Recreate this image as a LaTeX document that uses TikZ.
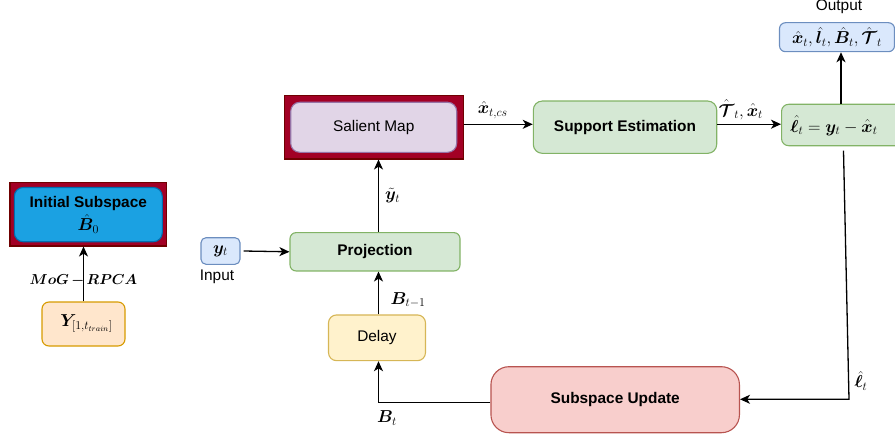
\documentclass[tikz,border=0pt]{standalone}
\usepackage{amsmath}
\usepackage{bm}
\usepackage{fontspec}
\setmainfont{Liberation Sans}
\usetikzlibrary{arrows.meta,calc}

\definecolor{grnF}{HTML}{D5E8D4}\definecolor{grnD}{HTML}{82B366}
\definecolor{bluF}{HTML}{DAE8FC}\definecolor{bluD}{HTML}{6C8EBF}
\definecolor{purF}{HTML}{E1D5E7}\definecolor{purD}{HTML}{9673A6}
\definecolor{yelF}{HTML}{FFF2CC}\definecolor{yelD}{HTML}{D6B656}
\definecolor{orgF}{HTML}{FFE6CC}\definecolor{orgD}{HTML}{D79B00}
\definecolor{redF}{HTML}{F8CECC}\definecolor{redD}{HTML}{B85450}
\definecolor{crimF}{HTML}{A20025}\definecolor{crimD}{HTML}{6F0000}
\definecolor{cyanF}{HTML}{1BA1E2}\definecolor{cyanD}{HTML}{006EAF}

\tikzset{
  blk/.style={draw, line width=1.1pt, inner sep=0pt, align=center,
    font=\fontsize{15.4}{19}\selectfont},
  frame/.style={draw=crimD, fill=crimF, line width=1.1pt, inner sep=0pt},
  mlbl/.style={inner sep=0pt, font=\fontsize{17}{20}\selectfont},
  plain/.style={inner sep=0pt, font=\fontsize{15.4}{19}\selectfont},
  arr/.style={line width=1.3pt, -{Stealth[length=10pt,width=9pt,inset=2.8pt]}}
}

\begin{document}
\begin{tikzpicture}[x=1pt,y=-1pt]
\useasboundingbox (0,0) rectangle (895,436);
\clip (0,0) rectangle (895,436);

% ---- initial subspace estimation (left) ----
\node[frame, minimum width=156.7pt, minimum height=63.3pt] (initF) at (88.3,214.3) {};
\node[blk, fill=cyanF, draw=cyanD, rounded corners=9pt,
      minimum width=148pt, minimum height=54.3pt] (init) at (88.3,214.6)
      {\textbf{Initial Subspace}\\[3pt]{\fontsize{17}{20}\selectfont$\hat{\bm{B}}_0$}};
\node[blk, fill=orgF, draw=orgD, rounded corners=7pt,
      minimum width=83pt, minimum height=44pt] (ytrain) at (83.5,324)
      {\hspace{6pt}{\fontsize{17}{20}\selectfont$\bm{Y}_{[1,t_{train}]}$}};
\draw[arr] (ytrain.north) -- (ytrain.north |- initF.south)
  node[mlbl, pos=0.38, font=\fontsize{15.5}{18}\selectfont] (mog)
  {$\bm{MoG\,{-}\,RPCA}$};

% ---- main chain ----
\node[blk, fill=bluF, draw=bluD, rounded corners=5pt,
      minimum width=39pt, minimum height=26.6pt] (yin) at (220.5,251)
      {\fontsize{18.5}{20}\selectfont$\bm{y}_t$};
\node[plain] (inlbl) at (217,277) {Input};

\node[blk, fill=grnF, draw=grnD, rounded corners=6pt,
      minimum width=170pt, minimum height=38.3pt] (proj) at (375,251.8)
      {\textbf{Projection}};

\node[frame, minimum width=179pt, minimum height=63.3pt] (salF) at (373.8,127.3) {};
\node[blk, fill=purF, draw=purD, rounded corners=9pt,
      minimum width=166pt, minimum height=50pt] (sal) at (373.7,127.3)
      {Salient Map};

\node[blk, fill=grnF, draw=grnD, rounded corners=9pt,
      minimum width=183.4pt, minimum height=52.3pt] (supp) at (625,127.2)
      {\textbf{Support Estimation}};

\node[blk, fill=grnF, draw=grnD, rounded corners=7pt, anchor=west,
      minimum width=130pt, minimum height=41.4pt] (lres) at (781,125) {};
\node[mlbl, font=\fontsize{18}{20}\selectfont] (lrestxt) at (834,125.5)
  {$\hat{\bm{\ell}}_t=\bm{y}_t-\hat{\bm{x}}_t$};

\node[blk, fill=bluF, draw=bluD, rounded corners=6pt,
      minimum width=115pt, minimum height=29pt] (out) at (837,37.2)
      {\fontsize{17}{20}\selectfont$\hat{\bm{x}}_t,\hat{\bm{l}}_t,\hat{\bm{B}}_t,\hat{\bm{\mathcal{T}}}_t$};
\node[plain] (outlbl) at (839,7) {Output};

\node[blk, fill=yelF, draw=yelD, rounded corners=8pt,
      minimum width=97pt, minimum height=45.7pt] (delay) at (377,337.8)
      {Delay};

\node[blk, fill=redF, draw=redD, rounded corners=18pt,
      minimum width=248.5pt, minimum height=66pt] (subup) at (615.2,399.7)
      {\textbf{Subspace Update}};

% ---- connectors ----
\coordinate (vx) at (378.5,0);
\coordinate (ox) at (841,0);
\coordinate (fbtop) at (843.5,150.7);
\coordinate (fbcorner) at (849,399.3);

\draw[arr] ([xshift=3pt]yin.east) -- (proj.west);
\draw[arr] (proj.north -| vx) -- (salF.south -| vx)
  node[mlbl, pos=0.5, right=6pt] (ytil) {$\tilde{\bm{y}}_t$};
\draw[arr] ([yshift=3pt]salF.east) -- ([yshift=3pt]salF.east -| supp.west)
  node[mlbl, pos=0.42, above=5pt] (xcs) {$\hat{\bm{x}}_{t,cs}$};
\draw[arr] ([yshift=3pt]supp.east) -- ([yshift=3pt]supp.east -| lres.west)
  node[mlbl, pos=0.37, above=4pt] (tx) {$\hat{\bm{\mathcal{T}}}_t,\hat{\bm{x}}_t$};
\draw[arr] (lres.north -| ox) -- (out.south -| ox);
\draw[arr] (fbtop) -- (fbcorner) -- (fbcorner -| subup.east);
\node[mlbl] (lhat) at (861,381) {$\hat{\bm{\ell}}_t$};
\draw[arr] ([yshift=-2.6pt]subup.west) -| (delay.south -| vx);
\node[mlbl] (bt) at (387,418) {$\bm{B}_t$};
\draw[arr] (delay.north -| vx) -- (proj.south -| vx);
\node[mlbl] (btm) at (408,300) {$\bm{B}_{t-1}$};
\end{tikzpicture}
\end{document}
